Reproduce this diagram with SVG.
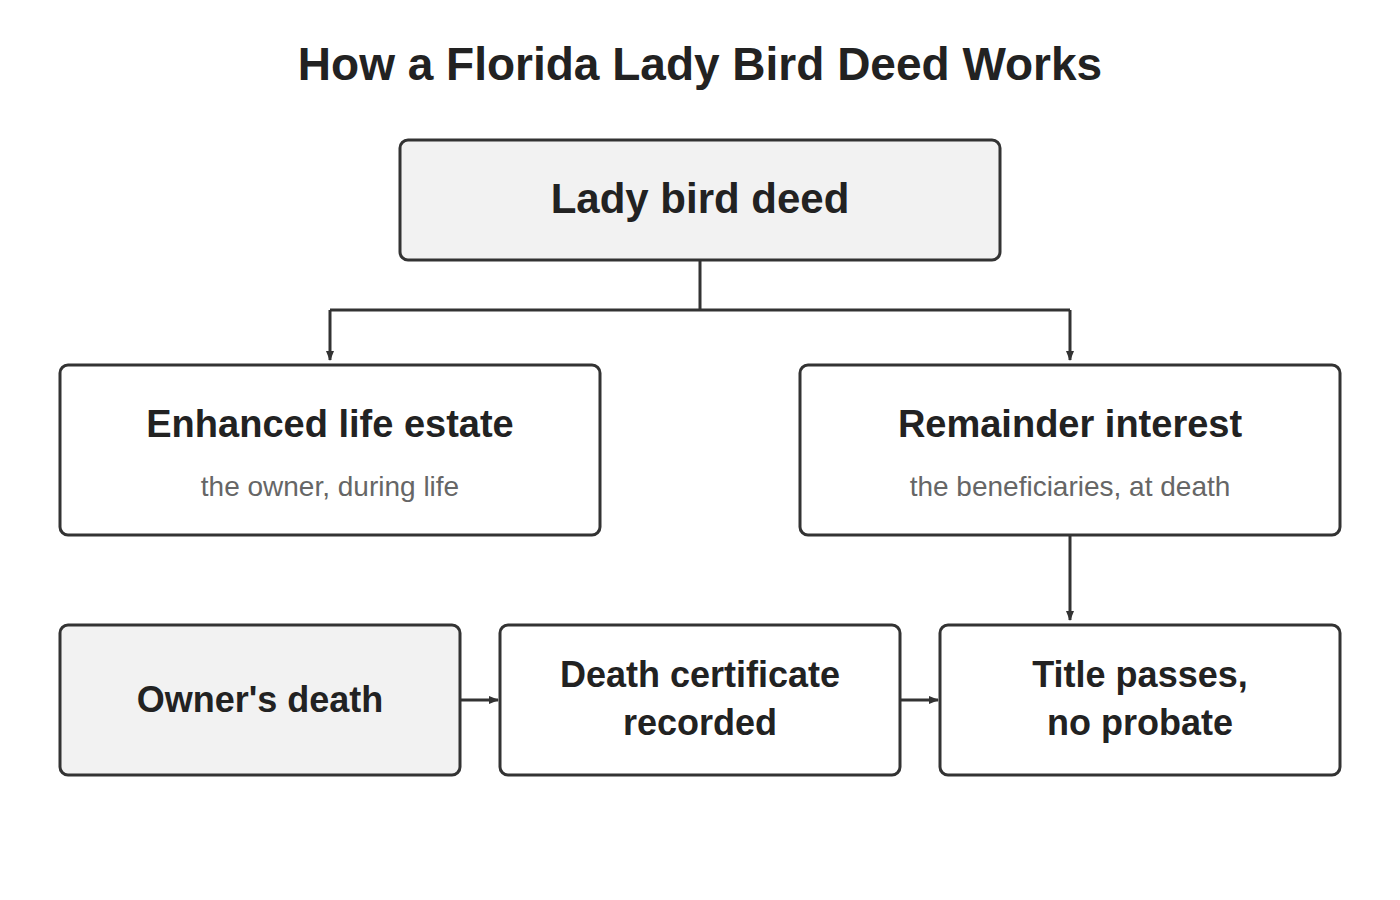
<svg xmlns="http://www.w3.org/2000/svg" width="1400" height="900" viewBox="0 0 1400 900">
<style>
.b{stroke:#333;stroke-width:3;rx:8}
.t{font-family:"Liberation Sans",Arial,sans-serif;font-weight:bold;fill:#222;text-anchor:middle}
.s{font-family:"Liberation Sans",Arial,sans-serif;fill:#666;text-anchor:middle;font-size:28px}
.c{stroke:#333;stroke-width:3;fill:none}
</style>
<defs><marker id="a" markerWidth="10" markerHeight="10" refX="9" refY="5" orient="auto" markerUnits="userSpaceOnUse"><path d="M0,1 L10,5 L0,9 Z" fill="#333"/></marker></defs>
<rect width="1400" height="900" fill="#fff"/>
<text class="t" x="700" y="80" font-size="46">How a Florida Lady Bird Deed Works</text>
<g id="connectors">
<path class="c" d="M700,261 V310 M330,310 H1070"/>
<path class="c" d="M330,310 V360" marker-end="url(#a)"/>
<path class="c" d="M1070,310 V360" marker-end="url(#a)"/>
<path class="c" d="M1070,536 V620" marker-end="url(#a)"/>
<path class="c" d="M461,700 H498" marker-end="url(#a)"/>
<path class="c" d="M901,700 H938" marker-end="url(#a)"/>
</g>
<g id="deed"><rect class="b" x="400" y="140" width="600" height="120" fill="#f2f2f2"/><text class="t" x="700" y="213" font-size="42">Lady bird deed</text></g>
<g id="life"><rect class="b" x="60" y="365" width="540" height="170" fill="#fff"/><text class="t" x="330" y="437" font-size="38">Enhanced life estate</text><text class="s" x="330" y="496">the owner, during life</text></g>
<g id="rem"><rect class="b" x="800" y="365" width="540" height="170" fill="#fff"/><text class="t" x="1070" y="437" font-size="38">Remainder interest</text><text class="s" x="1070" y="496">the beneficiaries, at death</text></g>
<g id="death"><rect class="b" x="60" y="625" width="400" height="150" fill="#f2f2f2"/><text class="t" x="260" y="712" font-size="36">Owner's death</text></g>
<g id="cert"><rect class="b" x="500" y="625" width="400" height="150" fill="#fff"/><text class="t" x="700" y="687" font-size="36">Death certificate</text><text class="t" x="700" y="735" font-size="36">recorded</text></g>
<g id="title"><rect class="b" x="940" y="625" width="400" height="150" fill="#fff"/><text class="t" x="1140" y="687" font-size="36">Title passes,</text><text class="t" x="1140" y="735" font-size="36">no probate</text></g>
</svg>
